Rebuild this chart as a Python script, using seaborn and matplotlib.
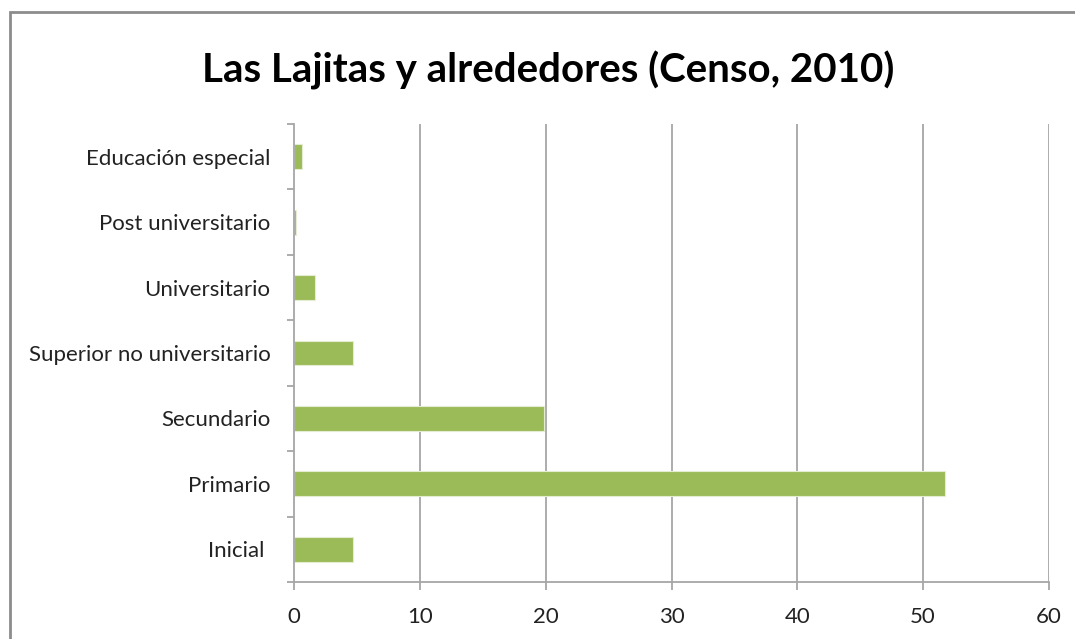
import numpy as np
import pandas as pd
import matplotlib
matplotlib.use('Agg')
import matplotlib.pyplot as plt
import seaborn as sns
from matplotlib.patches import Rectangle

# Data (percent of population by education level)
categories = ['Educación especial', 'Post universitario', 'Universitario',
              'Superior no universitario', 'Secundario', 'Primario', 'Inicial ']
values = [0.6, 0.15, 1.7, 4.7, 19.9, 51.7, 4.7]
x_ticks = [0, 10, 20, 30, 40, 50, 60]

df = pd.DataFrame({'nivel': categories, 'valor': values})

sns.set_theme(style='white')
plt.rcParams['font.family'] = ['Lato', 'DejaVu Sans']

fig = plt.figure(figsize=(10.75, 6.39), dpi=100)
ax = fig.add_axes([294 / 1075, 1 - 582 / 639, (1049 - 294) / 1075, (582 - 124) / 639])

sns.barplot(data=df, x='valor', y='nivel', order=categories, color='#9BBB59',
            saturation=1, width=0.38, edgecolor='#E4ECD2', linewidth=0.8, ax=ax)

ax.set_xlim(0, 60)
ax.set_ylim(len(categories) - 0.5, -0.5)
ax.set_xticks(x_ticks)
ax.set_xticklabels([str(t) for t in x_ticks])
ax.set_xlabel('')
ax.set_ylabel('')

# vertical gridlines
for t in x_ticks[1:]:
    ax.axvline(t, color='#A6A6A6', lw=1.3, zorder=0)

for side in ['top', 'right']:
    ax.spines[side].set_visible(False)
for side in ['left', 'bottom']:
    ax.spines[side].set_color('#A6A6A6')
    ax.spines[side].set_linewidth(1.3)

ax.tick_params(axis='x', direction='out', length=6, width=1.3, color='#A6A6A6',
               labelsize=16, labelcolor='#222222', pad=12, bottom=True)
ax.tick_params(axis='y', which='major', length=0, labelsize=16,
               labelcolor='#222222', pad=17)
ax.set_yticks(np.arange(-0.5, len(categories), 1), minor=True)
ax.tick_params(axis='y', which='minor', direction='out', length=5, width=1.3,
               color='#A6A6A6', left=True)

fig.text(548 / 1075, 1 - 70 / 639, 'Las Lajitas y alrededores (Censo, 2010)',
         ha='center', va='center', fontsize=29, fontweight='bold', color='black')

# chart frame (top and left edges visible)
fig.add_artist(Rectangle((10 / 1075, -0.1), 1.2, 1.1 - 12 / 639,
                         transform=fig.transFigure, fill=False,
                         edgecolor='#8C8C8C', lw=2))

fig.savefig('out.png', dpi=100)
